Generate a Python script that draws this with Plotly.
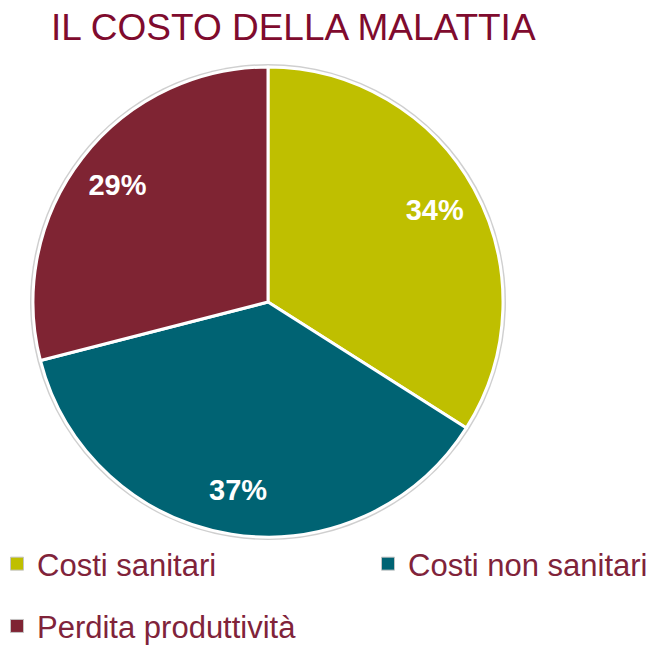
import plotly.graph_objects as go

# Data
labels = ["Costi sanitari", "Costi non sanitari", "Perdita produttività"]
values = [34, 37, 29]
colors = ["#BFBF00", "#006373", "#7F2433"]
title_text = "IL COSTO DELLA MALATTIA"

# The page body adds an 8px offset; the figure is sized to fill the window exactly
OFF = 8
W, H = 657 - OFF, 645 - OFF
cx, cy, r = 268 - OFF, 302 - OFF, 235          # pie centre / radius in figure px
def dom(rad):
    return dict(x=[(cx - rad) / W, (cx + rad) / W],
                y=[(H - cy - rad) / H, (H - cy + rad) / H])

fig = go.Figure()

# faint grey outline just outside the white pie border
fig.add_trace(go.Pie(
    labels=labels, values=values, sort=False, direction="clockwise",
    marker=dict(colors=["#cfcfcf"] * len(values), line=dict(width=0)),
    textinfo="none", hoverinfo="skip", showlegend=False, domain=dom(r + 3),
))

# main pie
fig.add_trace(go.Pie(
    labels=labels, values=values, sort=False, direction="clockwise", rotation=0,
    marker=dict(colors=colors, line=dict(color="white", width=3)),
    textinfo="none", hoverinfo="label+percent", showlegend=False, domain=dom(r),
))

# transparent ring overlay carrying the percentage labels near the outer edge
fig.add_trace(go.Pie(
    labels=labels, values=values, sort=False, direction="clockwise", rotation=0,
    hole=0.62,
    marker=dict(colors=["rgba(0,0,0,0)"] * len(values), line=dict(width=0)),
    textinfo="percent", textposition="inside", insidetextorientation="horizontal",
    insidetextfont=dict(color="white", size=29, family="Liberation Sans, Arial, sans-serif", weight="bold"),
    hoverinfo="skip", showlegend=False, domain=dom(r),
))

# legend entries (two columns: items 1 & 3 left, item 2 right)
legend_of = ["legend", "legend2", "legend"]
for i, (lab, col) in enumerate(zip(labels, colors)):
    fig.add_trace(go.Scatter(
        x=[None], y=[None], mode="markers", name=lab,
        marker=dict(symbol="square", size=13, color=col, line=dict(color="#c4c4c4", width=1)),
        legend=legend_of[i], legendgroup=f"g{i}", hoverinfo="skip",
    ))

leg_font = dict(family="Liberation Sans, Arial, sans-serif", size=31, color="#80233A")
leg_top = 1 - 529 / H
fig.update_layout(
    width=W, height=H,
    margin=dict(l=0, r=0, t=0, b=0, autoexpand=False),
    paper_bgcolor="white", plot_bgcolor="white",
    xaxis=dict(visible=False), yaxis=dict(visible=False),
    title=dict(
        text=title_text, x=43 / W, xanchor="left", xref="container",
        y=1 - 19 / H, yanchor="middle", yref="container",
        font=dict(family="Liberation Sans, Arial, sans-serif", size=37, color="#7F0B2E"),
    ),
    legend=dict(
        orientation="v", x=-11 / W, xanchor="left", y=leg_top, yanchor="top",
        font=leg_font, itemwidth=30, bgcolor="rgba(0,0,0,0)", tracegroupgap=19,
        itemclick=False, itemdoubleclick=False,
    ),
    legend2=dict(
        orientation="v", x=360 / W, xanchor="left", y=leg_top, yanchor="top",
        font=leg_font, itemwidth=30, bgcolor="rgba(0,0,0,0)",
        itemclick=False, itemdoubleclick=False,
    ),
)

fig.write_html("out.html")
